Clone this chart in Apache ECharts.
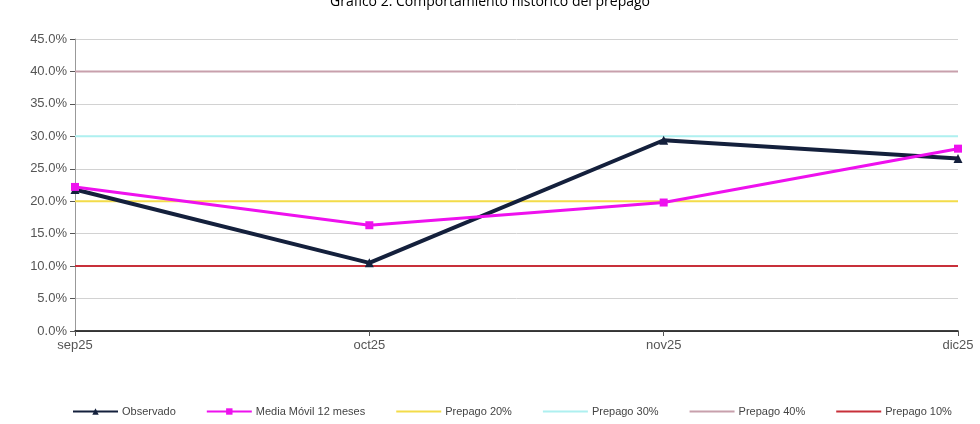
<!DOCTYPE html>
<html>
<head>
<meta charset="utf-8">
<script src="https://cdn.jsdelivr.net/npm/echarts@6/dist/echarts.min.js"></script>
<style>
  html, body { margin: 0; padding: 0; background: #fff; }
  #chart { width: 980px; height: 424px; }
</style>
</head>
<body>
<div id="chart"></div>
<script>
// categorías y series
var meses = ['sep25', 'oct25', 'nov25', 'dic25']
var observado = [21.8, 10.5, 29.4, 26.6]
var mediaMovil = [22.2, 16.3, 19.8, 28.1]
var prepago20 = [20, 20, 20, 20]
var prepago30 = [30, 30, 30, 30]
var prepago40 = [40, 40, 40, 40]
var prepago10 = [10, 10, 10, 10]

var chart = echarts.init(document.getElementById('chart'))

function refLine (name, data, color) {
  return {
    name: name,
    type: 'line',
    data: data,
    symbol: 'none',
    lineStyle: { color: color, width: 2 },
    itemStyle: { color: color },
    z: 1
  }
}

// en la leyenda las líneas de referencia van sin marcador
function sinMarca (name) {
  return { name: name, itemStyle: { opacity: 0 } }
}

chart.setOption({
  animation: false,
  title: {
    text: 'Gráfico 2: Comportamiento histórico del prepago',
    left: 'center',
    top: -10,
    textStyle: { fontFamily: 'Open Sans', fontSize: 14, fontWeight: 'normal', color: '#000' }
  },
  grid: { left: 75, right: 22, top: 39, bottom: 93 },
  legend: {
    bottom: 2,
    left: 67,
    itemGap: 30,
    itemWidth: 45,
    itemHeight: 8,
    textStyle: { fontSize: 11, color: '#444', fontFamily: 'Liberation Sans', padding: [0, 0, 0, -1] },
    data: ['Observado', 'Media Móvil 12 meses', sinMarca('Prepago 20%'), sinMarca('Prepago 30%'), sinMarca('Prepago 40%'), sinMarca('Prepago 10%')]
  },
  xAxis: {
    type: 'category',
    boundaryGap: false,
    data: meses,
    axisLine: { lineStyle: { color: '#000', width: 1.5 } },
    axisTick: { show: true, alignWithLabel: true, lineStyle: { color: '#555' } },
    axisLabel: { color: '#555', fontSize: 13, fontFamily: 'Liberation Sans', margin: 8 }
  },
  yAxis: {
    type: 'value',
    min: 0,
    max: 45,
    interval: 5,
    axisLine: { show: true, lineStyle: { color: '#999' } },
    axisTick: { show: true, lineStyle: { color: '#555' } },
    axisLabel: {
      color: '#555',
      fontSize: 13,
      fontFamily: 'Liberation Sans',
      formatter: function (v) { return v.toFixed(1) + '%' }
    },
    splitLine: { lineStyle: { color: '#d2d2d2', width: 1 } }
  },
  series: [
    {
      name: 'Observado',
      type: 'line',
      data: observado,
      symbol: 'triangle',
      symbolSize: 9,
      lineStyle: { color: '#14203c', width: 4 },
      itemStyle: { color: '#14203c' },
      z: 4
    },
    {
      name: 'Media Móvil 12 meses',
      type: 'line',
      data: mediaMovil,
      symbol: 'rect',
      symbolSize: 8,
      lineStyle: { color: '#ee11ee', width: 3 },
      itemStyle: { color: '#ee11ee' },
      z: 5
    },
    refLine('Prepago 20%', prepago20, '#f3dc4a'),
    refLine('Prepago 30%', prepago30, '#aef0f0'),
    refLine('Prepago 40%', prepago40, '#c8a0ac'),
    refLine('Prepago 10%', prepago10, '#c8303a')
  ]
})
</script>
</body>
</html>
